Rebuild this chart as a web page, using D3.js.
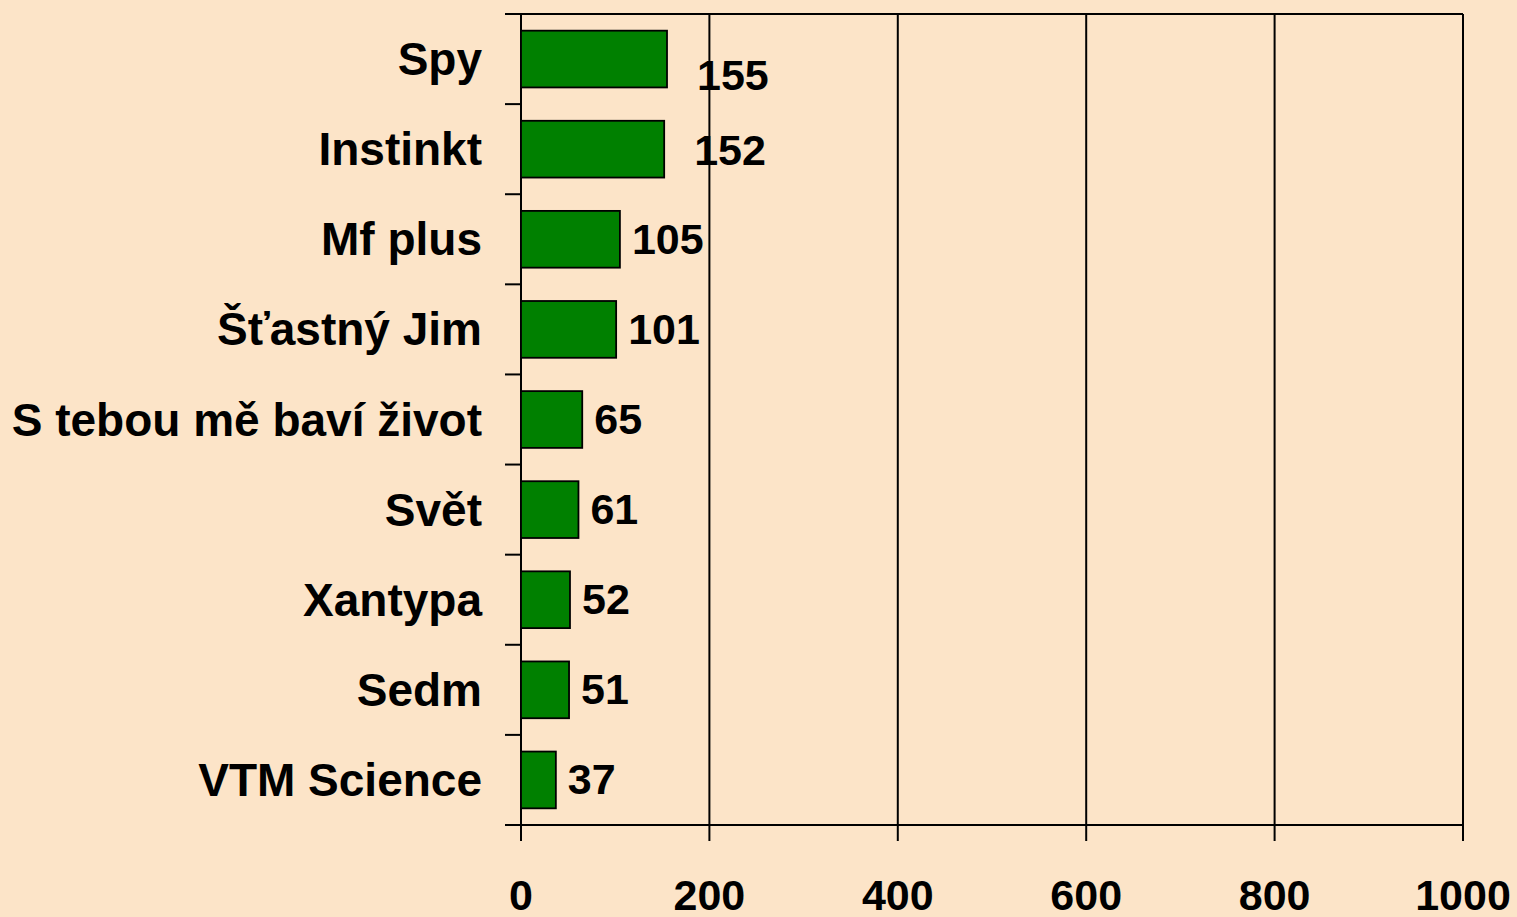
<!DOCTYPE html>
<html>
<head>
<meta charset="utf-8">
<script src="https://cdn.jsdelivr.net/npm/d3@7/dist/d3.min.js"></script>
<style>
  html, body { margin: 0; padding: 0; background: #fce4c8; }
  svg { display: block; }
  text { font-family: "Liberation Sans", Arial, sans-serif; font-weight: bold; fill: #000; }
</style>
</head>
<body>
<div id="chart"></div>
<script>
const titles = ['Spy', 'Instinkt', 'Mf plus', 'Šťastný Jim', 'S tebou mě baví život',
                'Svět', 'Xantypa', 'Sedm', 'VTM Science'];
const counts = [155, 152, 105, 101, 65, 61, 52, 51, 37];
const xTicks = [0, 200, 400, 600, 800, 1000];

// the first label sits a bit off, as in the original
const labelNudge = { 'Spy': [18, 16], 'Instinkt': [18, 1] };

const W = 1517, H = 917;
const margin = { top: 14, right: 54, bottom: 92, left: 521 };

const svg = d3.select('#chart')
  .append('svg')
  .attr('width', W)
  .attr('height', H);

svg.append('rect')
  .attr('width', W)
  .attr('height', H)
  .attr('fill', '#fce4c8');

const x = d3.scaleLinear()
  .domain([0, 1000])
  .range([margin.left, W - margin.right]);

const y = d3.scaleBand()
  .domain(titles)
  .range([margin.top, H - margin.bottom])
  .paddingInner(0.37)
  .paddingOuter(0.185);

const step = y.step();
const plotTop = margin.top, plotBottom = H - margin.bottom;

// vertical gridlines + bottom ticks
xTicks.forEach(t => {
  if (t > 0) {
    svg.append('line')
      .attr('x1', x(t)).attr('x2', x(t))
      .attr('y1', plotTop).attr('y2', plotBottom)
      .attr('stroke', '#000').attr('stroke-width', 2);
  }
  svg.append('line')
    .attr('x1', x(t)).attr('x2', x(t))
    .attr('y1', plotBottom).attr('y2', plotBottom + 16)
    .attr('stroke', '#000').attr('stroke-width', 2);
  svg.append('text')
    .attr('x', x(t))
    .attr('y', plotBottom + 85)
    .attr('text-anchor', 'middle')
    .attr('font-size', '43px')
    .text(t);
});

// top and bottom horizontal lines
[plotTop, plotBottom].forEach(yy => {
  svg.append('line')
    .attr('x1', x(0) - 16).attr('x2', x(1000))
    .attr('y1', yy).attr('y2', yy)
    .attr('stroke', '#000').attr('stroke-width', 2);
});

// left axis line and category ticks
svg.append('line')
  .attr('x1', x(0)).attr('x2', x(0))
  .attr('y1', plotTop).attr('y2', plotBottom + 16)
  .attr('stroke', '#000').attr('stroke-width', 2);

d3.range(titles.length + 1).forEach(i => {
  svg.append('line')
    .attr('x1', x(0) - 16).attr('x2', x(0))
    .attr('y1', plotTop + i * step).attr('y2', plotTop + i * step)
    .attr('stroke', '#000').attr('stroke-width', 2);
});

// bars
svg.selectAll('.bar')
  .data(titles)
  .enter().append('rect')
  .attr('x', x(0))
  .attr('y', d => y(d))
  .attr('width', (d, i) => x(counts[i]) - x(0))
  .attr('height', y.bandwidth())
  .attr('fill', '#008000')
  .attr('stroke', '#000')
  .attr('stroke-width', 1.8);

// category labels
svg.selectAll('.cat')
  .data(titles)
  .enter().append('text')
  .attr('x', x(0) - 39)
  .attr('y', d => y(d) + y.bandwidth() / 2 + 16)
  .attr('text-anchor', 'end')
  .attr('font-size', '46px')
  .text(d => d);

// value labels
svg.selectAll('.val')
  .data(titles)
  .enter().append('text')
  .attr('x', (d, i) => x(counts[i]) + 12 + (labelNudge[d] ? labelNudge[d][0] : 0))
  .attr('y', d => y(d) + y.bandwidth() / 2 + 14.5 + (labelNudge[d] ? labelNudge[d][1] : 0))
  .attr('font-size', '43px')
  .text((d, i) => counts[i]);
</script>
</body>
</html>
